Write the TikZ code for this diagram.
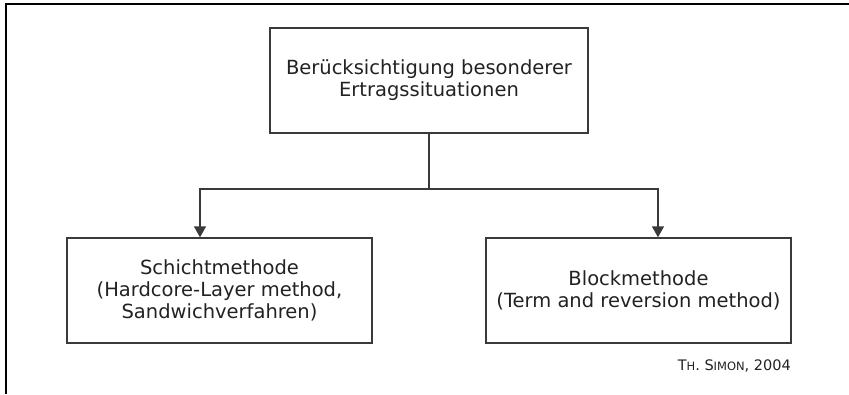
\documentclass[tikz,border=0pt]{standalone}
\usepackage{fontspec}
\setmainfont{DejaVu Sans}
\usetikzlibrary{arrows.meta}
\definecolor{boxline}{HTML}{3A3A3A}
\definecolor{txt}{HTML}{222222}
\tikzset{
  boxnode/.style={draw=boxline, line width=1.4pt, rectangle, minimum height=105pt, inner sep=0pt,
    align=center, text=txt, font=\fontsize{19.5}{21.8}\selectfont},
  conn/.style={draw=boxline, line width=1.4pt},
  arr/.style={conn, -{Triangle[length=11pt,width=12pt]}},
  frame/.style={draw=black, line width=2.2pt}
}
\begin{document}
\begin{tikzpicture}[x=1pt,y=-1pt]
\useasboundingbox (0,0) rectangle (849,394);
\draw[frame] (6,394) -- (6,3.8) -- (849,3.8);
\node[boxnode, minimum width=318pt] (top) at (429,80.5) {Berücksichtigung besonderer\\Ertragssituationen};
\node[boxnode, minimum width=305pt] (left) at (219.5,290.5) {Schichtmethode\\(Hardcore-Layer method,\\Sandwichverfahren)};
\node[boxnode, minimum width=305pt] (right) at (638.5,290.5) {Blockmethode\\(Term and reversion method)};
\coordinate (j) at (429,189);
\draw[conn] (top.south) -- (j);
\draw[arr] (j) -| ([xshift=-19.5pt]left.north);
\draw[arr] (j) -| ([xshift=19.5pt]right.north);
\node[anchor=base east, text=txt, font=\fontsize{14.5}{16}\selectfont, inner sep=0pt] (cite) at (791,370)
  {T{\fontsize{11.5}{13}\selectfont H}. S{\fontsize{11.5}{13}\selectfont IMON}, 2004};
\end{tikzpicture}
\end{document}
